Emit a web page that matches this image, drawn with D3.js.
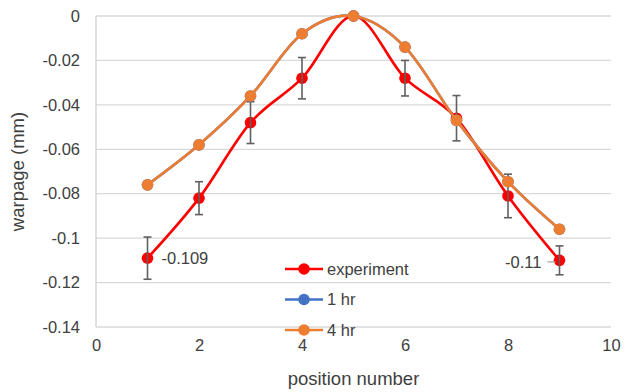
<!DOCTYPE html>
<html>
<head>
<meta charset="utf-8">
<script src="https://cdn.jsdelivr.net/npm/d3@7"></script>
<style>
  body { margin: 0; background: #fff; }
  text { font-family: "Liberation Sans", Arial, sans-serif; fill: #404040; }
</style>
</head>
<body>
<svg id="vis" width="625" height="392"></svg>
<script>
// chart data
const positions = [1, 2, 3, 4, 5, 6, 7, 8, 9];
const experiment = [-0.109, -0.082, -0.048, -0.028, 0, -0.028, -0.046, -0.081, -0.110];
const experimentErr = [0.0095, 0.0074, 0.0094, 0.0093, 0, 0.008, 0.0102, 0.0098, 0.0065];
const oneHr = [-0.076, -0.058, -0.036, -0.008, 0, -0.014, -0.047, -0.0746, -0.096];
const fourHr = [-0.076, -0.058, -0.036, -0.008, 0, -0.014, -0.047, -0.0746, -0.096];
const xTicks = [0, 2, 4, 6, 8, 10];
const yTicks = [0, -0.02, -0.04, -0.06, -0.08, -0.1, -0.12, -0.14];
const legendNames = ["experiment", "1 hr", "4 hr"];

const width = 625, height = 392;
const margin = {top: 16, right: 14, bottom: 65, left: 96};

const svg = d3.select("svg#vis");

const x = d3.scaleLinear().domain([0, 10]).range([margin.left, width - margin.right]);
const y = d3.scaleLinear().domain([-0.14, 0]).range([height - margin.bottom, margin.top]);

// gridlines
svg.append("g")
    .selectAll("line")
    .data(yTicks)
    .enter()
    .append("line")
    .attr("x1", x(0)).attr("x2", x(10))
    .attr("y1", d => y(d)).attr("y2", d => y(d))
    .attr("stroke", "#d9d9d9")
    .attr("stroke-width", 1.3);

// left axis line
svg.append("line")
    .attr("x1", x(0)).attr("x2", x(0))
    .attr("y1", y(0)).attr("y2", y(-0.14))
    .attr("stroke", "#d0d0d0")
    .attr("stroke-width", 1.3);

// axes labels (no tick marks), plain hyphen for minus like Excel
const yAxis = svg.append("g")
    .attr("transform", `translate(${x(0)},0)`)
    .call(d3.axisLeft(y).tickValues(yTicks).tickSize(0).tickPadding(16)
        .tickFormat(d => String(+d.toFixed(2))));
yAxis.select(".domain").remove();
yAxis.selectAll("text").style("font-size", "16.5px").attr("fill", "#404040");

const xAxis = svg.append("g")
    .attr("transform", `translate(0,${y(-0.14)})`)
    .call(d3.axisBottom(x).tickValues(xTicks).tickSize(0).tickPadding(12)
        .tickFormat(d => String(d)));
xAxis.select(".domain").remove();
xAxis.selectAll("text").style("font-size", "16.5px").attr("fill", "#404040");

// axis titles
svg.append("text")
    .attr("x", (x(0) + x(10)) / 2)
    .attr("y", 385)
    .attr("text-anchor", "middle")
    .style("font-size", "18.5px")
    .text("position number");

svg.append("text")
    .attr("transform", `translate(24,${(y(0) + y(-0.14)) / 2}) rotate(-90)`)
    .attr("text-anchor", "middle")
    .style("font-size", "18.5px")
    .text("warpage (mm)");

const curve = d3.line()
    .x(d => x(d[0]))
    .y(d => y(d[1]))
    .curve(d3.curveCardinal.tension(0));

function drawSeries(values, color) {
    const pts = positions.map((p, i) => [p, values[i]]);
    const g = svg.append("g");
    g.append("path")
        .datum(pts)
        .attr("d", curve)
        .attr("fill", "none")
        .attr("stroke", color)
        .attr("stroke-width", 2.6);
    g.selectAll("circle")
        .data(pts)
        .enter()
        .append("circle")
        .attr("cx", d => x(d[0]))
        .attr("cy", d => y(d[1]))
        .attr("r", 5.8)
        .attr("fill", color);
    return g;
}

drawSeries(experiment, "#ff0000");

// error bars for experiment
const errG = svg.append("g").attr("stroke", "#606060").attr("stroke-width", 1.6);
positions.forEach((p, i) => {
    if (!experimentErr[i]) return;
    const cx = x(p);
    const top = y(experiment[i] + experimentErr[i]);
    const bot = y(experiment[i] - experimentErr[i]);
    errG.append("line").attr("x1", cx).attr("x2", cx).attr("y1", top).attr("y2", bot);
    errG.append("line").attr("x1", cx - 4).attr("x2", cx + 4).attr("y1", top).attr("y2", top);
    errG.append("line").attr("x1", cx - 4).attr("x2", cx + 4).attr("y1", bot).attr("y2", bot);
});

drawSeries(oneHr, "#4472c4");
drawSeries(fourHr, "#ed7d31");

// data labels
svg.append("text")
    .attr("x", x(positions[0]) + 14)
    .attr("y", y(experiment[0]))
    .attr("dy", "0.35em")
    .style("font-size", "16.5px")
    .text(experiment[0]);

svg.append("text")
    .attr("x", x(positions[8]) - 18)
    .attr("y", y(experiment[8]) + 2)
    .attr("dy", "0.35em")
    .attr("text-anchor", "end")
    .style("font-size", "16.5px")
    .text(experiment[8].toString());

svg.append("line")
    .attr("x1", x(positions[8]) - 12).attr("x2", x(positions[8]) - 4)
    .attr("y1", y(experiment[8]) + 1.5).attr("y2", y(experiment[8]) + 1.5)
    .attr("stroke", "#a6a6a6")
    .attr("stroke-width", 1.3);

// legend
const legendColors = ["#ff0000", "#4472c4", "#ed7d31"];
const legend = svg.append("g")
    .selectAll("g")
    .data(legendNames)
    .enter()
    .append("g")
    .attr("transform", (d, i) => `translate(285,${269 + i * 30.5})`);
legend.append("line")
    .attr("x1", 0).attr("x2", 38)
    .attr("stroke", (d, i) => legendColors[i])
    .attr("stroke-width", 2.6);
legend.append("circle")
    .attr("cx", 19)
    .attr("r", 5.8)
    .attr("fill", (d, i) => legendColors[i]);
legend.append("text")
    .attr("x", 42)
    .attr("dy", "0.35em")
    .style("font-size", "16.5px")
    .text(d => d);
</script>
</body>
</html>
